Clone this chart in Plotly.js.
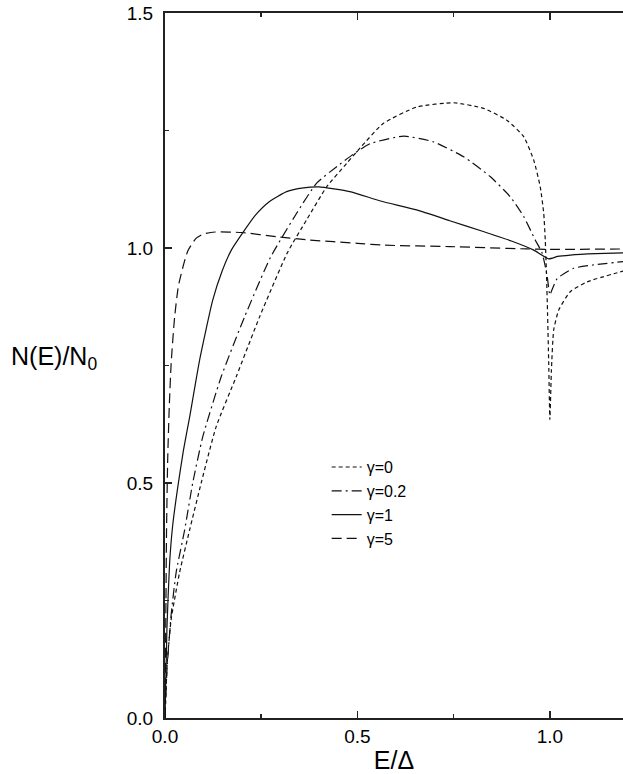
<!DOCTYPE html>
<html>
<head>
<meta charset="utf-8">
<script src="https://cdn.plot.ly/plotly-3.0.1.min.js"></script>
<style>html,body{margin:0;padding:0;background:#fff;}#chart{width:623px;height:774px;}</style>
</head>
<body>
<div id="chart"></div>
<script>
// gamma = 0 (short dash)
const g0E = [0,0.006,0.016,0.038,0.064,0.094,0.133,0.185,0.246,0.318,0.368,0.42,0.472,0.507,0.567,0.654,0.75,0.828,0.888,0.932,0.958,0.975,0.984,0.988,0.991,0.994,0.997,1.0,1.004,1.01,1.023,1.053,1.097,1.2];
const g0N = [0,0.12,0.21,0.31,0.40,0.50,0.62,0.726,0.854,0.99,1.06,1.13,1.18,1.213,1.265,1.30,1.309,1.297,1.272,1.237,1.187,1.13,1.074,1.017,0.95,0.86,0.755,0.635,0.74,0.826,0.868,0.907,0.928,0.953];
// gamma = 0.2 (dash-dot)
const g02E = [0,0.005,0.016,0.029,0.051,0.072,0.098,0.146,0.207,0.274,0.342,0.394,0.454,0.49,0.533,0.62,0.697,0.776,0.845,0.897,0.932,0.962,0.98,0.993,1.0,1.005,1.019,1.062,1.114,1.2];
const g02N = [0,0.10,0.22,0.31,0.40,0.50,0.598,0.726,0.854,0.98,1.074,1.138,1.178,1.20,1.222,1.238,1.226,1.194,1.152,1.109,1.067,1.017,0.989,0.94,0.90,0.91,0.935,0.957,0.964,0.972];
// gamma = 1 (solid)
const g1E = [0,0.005,0.012,0.02,0.033,0.048,0.064,0.09,0.124,0.148,0.172,0.2,0.235,0.27,0.316,0.36,0.4,0.48,0.56,0.654,0.74,0.827,0.9,0.957,0.997,1.02,1.053,1.12,1.2];
const g1N = [0,0.19,0.33,0.41,0.49,0.57,0.64,0.762,0.889,0.95,0.995,1.03,1.07,1.098,1.12,1.128,1.13,1.12,1.10,1.081,1.058,1.035,1.015,0.996,0.977,0.982,0.985,0.988,0.99];
// gamma = 5 (long dash)
const g5E = [0,0.002,0.004,0.007,0.011,0.016,0.025,0.035,0.05,0.06,0.08,0.1,0.13,0.2,0.29,0.376,0.5,0.57,0.74,0.94,1.0,1.2];
const g5N = [0,0.2,0.4,0.55,0.66,0.755,0.853,0.92,0.97,0.995,1.02,1.03,1.034,1.033,1.024,1.017,1.01,1.006,1.003,0.998,0.997,0.998];

const names = ['γ=0','γ=0.2','γ=1','γ=5'];
const xTickVals = [0,0.5,1.0];
const xTickText = ['0.0','0.5','1.0'];
const yTickVals = [0,0.5,1.0,1.5];
const yTickText = ['0.0','0.5','1.0','1.5'];

const lineCol = '#111';
function tr(x,y,name,dash){
  return {x:x,y:y,name:name,type:'scatter',mode:'lines',
    line:{color:lineCol,width:1.2,dash:dash,shape:'spline',smoothing:0.5}};
}
const data = [
  tr(g0E,g0N,names[0],'4px,3px'),
  tr(g02E,g02N,names[1],'10px,4px,2px,4px'),
  tr(g1E,g1N,names[2],'solid'),
  tr(g5E,g5N,names[3],'10px,5px')
];
const font = {family:'"Liberation Sans", Arial, sans-serif', color:'#000'};
const layout = {
  width:623, height:774,
  margin:{l:165,r:0,t:13,b:56},
  paper_bgcolor:'#fff', plot_bgcolor:'#fff',
  showlegend:true,
  legend:{x:0.353,y:0.38,xanchor:'left',yanchor:'top',bgcolor:'rgba(0,0,0,0)',
    font:Object.assign({size:16},font), tracegroupgap:0},
  font:font,
  xaxis:{range:[0,1.19], showgrid:false, zeroline:false, showline:true, linecolor:'#222', linewidth:2,
    mirror:'ticks', ticks:'inside', ticklen:7, tickwidth:1.5, tickcolor:'#222',
    tickvals:xTickVals, ticktext:xTickText, tickfont:Object.assign({size:19},font),
    minor:{dtick:0.25, ticks:'inside', ticklen:4, tickcolor:'#222', showgrid:false},
    title:{text:'E/Δ', font:Object.assign({size:25},font), standoff:8},
    automargin:false},
  yaxis:{range:[0,1.5], showgrid:false, zeroline:false, showline:true, linecolor:'#222', linewidth:2,
    ticks:'inside', ticklen:7, tickwidth:1.5, tickcolor:'#222',
    tickvals:yTickVals, ticktext:yTickText, tickfont:Object.assign({size:19},font),
    ticklabelstandoff:6,
    minor:{dtick:0.25, ticks:'inside', ticklen:4, tickcolor:'#222', showgrid:false},
    automargin:false},
  annotations:[{text:'N(E)/N<sub>0</sub>', xref:'paper', yref:'paper', x:-0.34, y:0.51,
    xanchor:'left', yanchor:'middle', showarrow:false, font:Object.assign({size:25},font)}]
};
Plotly.newPlot('chart', data, layout, {displayModeBar:false, staticPlot:true});
</script>
</body>
</html>
